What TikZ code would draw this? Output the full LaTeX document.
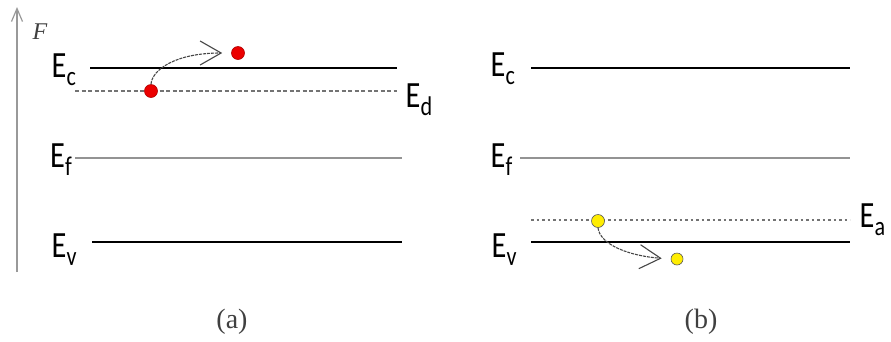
\documentclass[tikz,border=0pt]{standalone}
\usepackage{fontspec}
\setmainfont{Carlito}
\newfontfamily\capfont{Liberation Serif}
\usetikzlibrary{arrows.meta}
\tikzset{
 band/.style={line width=2.6pt, black},
 midlvl/.style={line width=1.7pt, gray!85},
 implvl/.style={line width=1.3pt, gray!90!black, dash pattern=on 4pt off 2.5pt},
 acclvl/.style={line width=1.3pt, gray!90!black, dash pattern=on 2.5pt off 3pt},
 lbl/.style={anchor=base west, inner sep=0pt, font=\fontsize{37}{37}\selectfont},
 captext/.style={inner sep=0pt, font=\capfont\fontsize{28}{28}\selectfont, text=black!75},
 reddot/.style={circle, fill=red!92!black, draw=red!70!black, line width=0.6pt, minimum size=13pt, inner sep=0pt},
 yeldot/.style={circle, fill=yellow!95!orange, draw=gray!70!black, line width=0.6pt, minimum size=13pt, inner sep=0pt},
 hop/.style={gray!55!black, line width=1.1pt, dash pattern=on 3pt off 1pt, -{Straight Barb[length=21pt,width=24pt,line width=1.1pt]}},
}
\newcommand\lvlE[1]{\scalebox{0.82}[1]{E\raisebox{-8pt}{\fontsize{27}{27}\selectfont #1}}}
\begin{document}
\begin{tikzpicture}[x=1pt,y=-1pt]
\useasboundingbox (0,0) rectangle (891,341);
% axis
\coordinate (axb) at (17,272);
\coordinate (axt) at (17,7);
\draw[gray!80, line width=1.4pt, -{Straight Barb[length=13pt,width=11pt,line width=1.2pt]}] (axb) -- (axt);
\node[inner sep=0pt, font=\capfont\itshape\fontsize{24}{24}\selectfont, text=black!75] (F) at (40,32) {F};
% panel (a)
\draw[band] (90,68) -- (397,68);
\draw[implvl] (75,91) -- (397,91);
\draw[midlvl] (75,158) -- (402,158);
\draw[band] (92,242) -- (402,242);
\node[lbl] (Eca) at (51.5,77) {\lvlE{c}};
\node[lbl] (Ed) at (405.5,107) {\lvlE{d}};
\node[lbl] (Efa) at (50,167) {\lvlE{f}};
\node[lbl] (Eva) at (51.5,257) {\lvlE{v}};
\node[reddot] (r1) at (151,91) {};
\node[reddot] (r2) at (238,53) {};
\draw[hop, shorten >=9pt] (r1.north) .. controls (152,70) and (175,53) .. (r2.west);
\node[captext] (capa) at (232,322) {(a)};
% panel (b)
\draw[band] (531,68) -- (850,68);
\draw[midlvl] (520,158) -- (850,158);
\draw[acclvl] (531,220) -- (850,220);
\draw[band] (531,242) -- (850,242);
\node[lbl] (Ecb) at (490.5,76) {\lvlE{c}};
\node[lbl] (Efb) at (490.5,167) {\lvlE{f}};
\node[lbl] (Ea) at (859.5,227) {\lvlE{a}};
\node[lbl] (Evb) at (491.5,257) {\lvlE{v}};
\node[yeldot] (y1) at (598,221) {};
\node[yeldot, minimum size=12pt] (y2) at (677,259) {};
\draw[hop, shorten >=9pt] (y1.south) .. controls (600,245) and (630,256) .. (y2.west);
\node[captext] (capb) at (701,322) {(b)};
\end{tikzpicture}
\end{document}
